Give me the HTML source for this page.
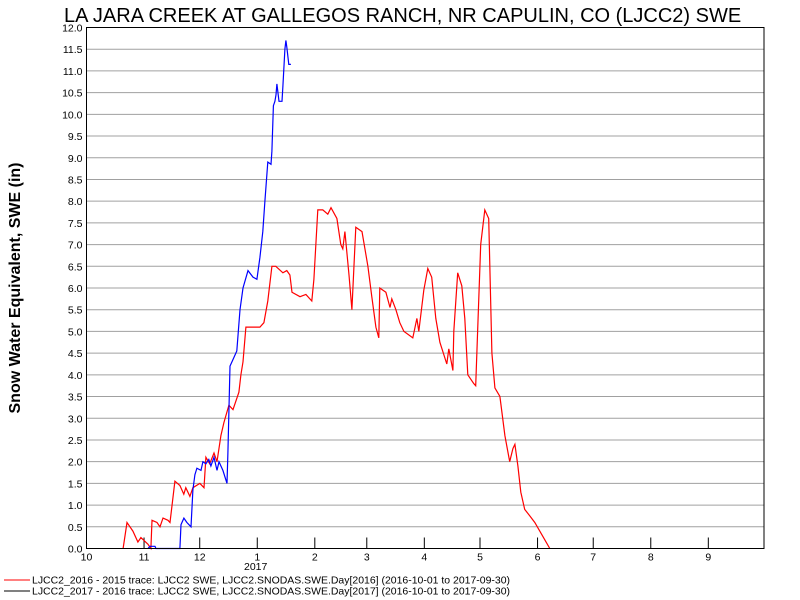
<!DOCTYPE html>
<html><head><meta charset="utf-8"><style>
body{margin:0;background:#fff;}
svg{display:block;font-family:"Liberation Sans",sans-serif;}
</style></head><body>
<svg id="chart" width="800" height="600">
<text x="64" y="22" font-size="20" fill="#000">LA JARA CREEK AT GALLEGOS RANCH, NR CAPULIN, CO (LJCC2) SWE</text>
<text transform="translate(20,288) rotate(-90)" text-anchor="middle" font-size="16" font-weight="bold">Snow Water Equivalent, SWE (in)</text>
<g id="grid"></g>
<g id="yticks"></g>
<g id="xticks"></g>
<g id="series"></g>
<rect x="86.5" y="27.5" width="677.5" height="521" fill="none" stroke="#000"/>
<text x="244" y="570" font-size="10.5">2017</text>
<g>
<line x1="4" y1="580" x2="30" y2="580" stroke="#f00"/>
<text x="32" y="583.5" font-size="10.5" textLength="478" lengthAdjust="spacingAndGlyphs">LJCC2_2016 - 2015 trace: LJCC2 SWE, LJCC2.SNODAS.SWE.Day[2016] (2016-10-01 to 2017-09-30)</text>
<line x1="4" y1="591" x2="30" y2="591" stroke="#000"/>
<text x="32" y="594.5" font-size="10.5" textLength="478" lengthAdjust="spacingAndGlyphs">LJCC2_2017 - 2016 trace: LJCC2 SWE, LJCC2.SNODAS.SWE.Day[2017] (2016-10-01 to 2017-09-30)</text>
</g>
</svg>
<script>
const yTicks=[0,0.5,1,1.5,2,2.5,3,3.5,4,4.5,5,5.5,6,6.5,7,7.5,8,8.5,9,9.5,10,10.5,11,11.5,12];
const monthLabels=["10","11","12","1","2","3","4","5","6","7","8","9"];
const monthDays=[0,31,61,92,123,151,182,212,243,273,304,335];
const redDays=[19.7,21.8,25,27.7,29.3,33.1,34.7,35.3,38,39.6,41.2,43.9,45,47.6,50.3,52.4,53.5,55.7,57.3,61.1,63.3,64.3,66.4,68.7,70.3,72.4,74,76.7,78.9,82.1,83.2,84.3,85.9,93.4,95.6,97.7,99.9,102,105.8,107.9,109.6,110.7,115,118.2,121.4,122.5,124.6,127.3,130,131.7,134.9,137,138.1,139.2,141.4,143,145.1,148.4,151.6,153.7,155.9,157.5,158,161.3,163.5,164.5,166.7,168.8,171,175.8,178,179,181.7,183.9,186,188.2,190.4,194.1,195.2,197.4,197.9,200,202.2,203.8,205.4,208.6,209.7,212.4,214.6,216.7,218.4,220,222.7,225.4,228,229.7,230.8,232.4,234,236.1,238.8,241.5,246.9,249.6];
const redVals=[0,0.6,0.4,0.15,0.25,0.1,0,0.65,0.6,0.5,0.7,0.65,0.6,1.55,1.45,1.25,1.4,1.2,1.4,1.5,1.4,2.1,1.95,2.2,2.0,2.6,2.9,3.3,3.2,3.6,4.0,4.3,5.1,5.1,5.2,5.7,6.5,6.5,6.35,6.4,6.3,5.9,5.8,5.85,5.7,6.2,7.8,7.8,7.7,7.85,7.6,7.0,6.9,7.3,6.3,5.5,7.4,7.3,6.5,5.8,5.1,4.85,6.0,5.9,5.55,5.75,5.5,5.2,5.0,4.85,5.3,5.0,5.95,6.45,6.25,5.3,4.75,4.25,4.6,4.1,5.0,6.35,6.05,5.3,4.0,3.8,3.75,7.0,7.8,7.6,4.5,3.7,3.5,2.6,2.0,2.3,2.4,1.9,1.3,0.9,0.75,0.6,0.2,0];
const blueDays=[33.1,34.2,36.9,37.4,50.3,50.9,52.5,54.1,56.3,57.3,58.4,59.5,61.7,62.7,64.3,65.9,67,68.7,70.3,71.4,73.5,75.7,76.2,77.3,79.4,81,82.7,84.3,87,89.7,91.8,93.4,95,96.1,97.7,99.4,99.9,100.7,101.5,102.1,102.6,103.7,105.3,105.8,106.9,107.4,107.9,109,110.1];
const blueVals=[0,0.05,0.05,0,0,0.55,0.7,0.6,0.5,1.35,1.7,1.85,1.8,2.0,1.95,2.05,1.9,2.1,1.8,2.0,1.8,1.5,2.2,4.2,4.4,4.55,5.5,6.0,6.4,6.25,6.2,6.7,7.3,8.0,8.9,8.85,9.15,10.2,10.3,10.45,10.7,10.3,10.3,10.65,11.5,11.7,11.55,11.15,11.15];
const NS="http://www.w3.org/2000/svg";
const X0=86.5,X1=764,Y0=548.5,Y1=27.5;
function xs(d){return X0+d*(X1-X0)/365;}
function ys(v){return Y0-v*(Y0-Y1)/12;}
function mk(tag,attrs,parent){const e=document.createElementNS(NS,tag);for(const k in attrs)e.setAttribute(k,attrs[k]);parent.appendChild(e);return e;}
const grid=document.getElementById('grid'),yt=document.getElementById('yticks'),xt=document.getElementById('xticks'),ser=document.getElementById('series');
yTicks.forEach(v=>{
  if(v>0&&v<12){const l=mk('line',{x1:X0,x2:X1,y1:ys(v),y2:ys(v),stroke:'#a0a0a0'},grid);
  
  }
  const t=mk('text',{x:X0-4,y:ys(v)+4,'text-anchor':'end','font-size':'10.5'},yt);
  t.textContent=v.toFixed(1);
  
  
});
monthDays.forEach((d,i)=>{
  const x=xs(d);
  if(i>0){const l=mk('line',{x1:x,x2:x,y1:Y0,y2:Y0-11,stroke:'#000'},xt);
  
  }
  const t=mk('text',{x:x,y:Y0+12,'text-anchor':'middle','font-size':'10.5'},xt);
  t.textContent=monthLabels[i];
  
  
});
function line(days,vals,color,name){
  const pts=days.map((d,i)=>xs(d).toFixed(1)+','+ys(vals[i]).toFixed(1)).join(' ');
  const p=mk('polyline',{points:pts,fill:'none',stroke:color,'stroke-width':'1.2'},ser);
  
  
}
line(redDays,redVals,'#f00','series-2016');
line(blueDays,blueVals,'#00f','series-2017');
</script>
</body></html>
